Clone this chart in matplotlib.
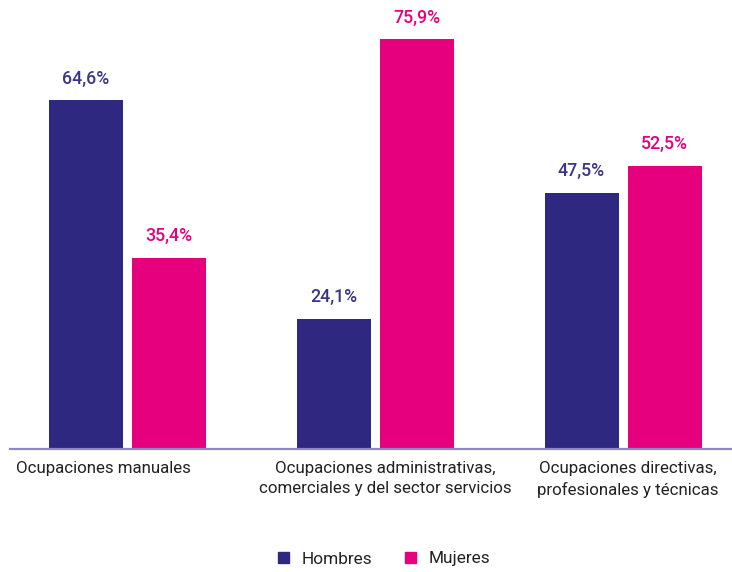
import matplotlib
matplotlib.use("Agg")
import matplotlib.pyplot as plt
from matplotlib.patches import Patch
import numpy as np

categories = [
    "Ocupaciones manuales",
    "Ocupaciones administrativas,\ncomerciales y del sector servicios",
    "Ocupaciones directivas,\nprofesionales y técnicas",
]
series_names = ["Hombres", "Mujeres"]
hombres = [64.6, 24.1, 47.5]
mujeres = [35.4, 75.9, 52.5]

C_H = "#2E2880"
C_M = "#E6007E"
C_H_TXT = "#3A3588"
C_AXIS = "#8E89C4"


def pct(v):
    return f"{v:.1f}%".replace(".", ",")


plt.rcParams["font.family"] = ["Roboto", "DejaVu Sans"]

W, H = 732, 572
fig = plt.figure(figsize=(W / 100, H / 100), dpi=100)

# axes placed in pixel terms: baseline at y=449 px from top
ax_left, ax_right = 10, 732
ax_bottom_px = 449
ax_top_px = 10
ax = fig.add_axes([ax_left / W, (H - ax_bottom_px) / H,
                   (ax_right - ax_left) / W, (ax_bottom_px - ax_top_px) / H])

spacing = 248.0
x = np.arange(len(categories))
width = 74 / spacing
off = 41.5 / spacing

ax.bar(x - off, hombres, width, color=C_H, label=series_names[0])
ax.bar(x + off, mujeres, width, color=C_M, label=series_names[1])

for xi, v in zip(x, hombres):
    ax.annotate(pct(v), (xi - off, v), xytext=(0, 9), textcoords="offset points",
                ha="center", va="bottom", color=C_H_TXT, fontsize=12.8,
                fontweight="medium")
for xi, v in zip(x, mujeres):
    ax.annotate(pct(v), (xi + off, v), xytext=(0, 9), textcoords="offset points",
                ha="center", va="bottom", color=C_M, fontsize=12.8,
                fontweight="medium")

ax.set_xlim((ax_left - 127) / spacing, (ax_right - 127) / spacing)
ax.set_ylim(0, (ax_bottom_px - ax_top_px) / 5.40)

for s in ["top", "right", "left"]:
    ax.spines[s].set_visible(False)
ax.spines["bottom"].set_color(C_AXIS)
ax.spines["bottom"].set_linewidth(1.6)
ax.set_yticks([])
ax.set_xticks([])

# category labels under each group
label_shift = [-24 / spacing, 10 / spacing, 5 / spacing]
for xi, cat, sh in zip(x, categories, label_shift):
    ax.annotate(cat, (xi + sh, 0), xytext=(0, -9), textcoords="offset points",
                ha="center", va="top", color="#222222", fontsize=12.2,
                linespacing=1.4, annotation_clip=False)

handles = [Patch(color=C_H), Patch(color=C_M)]
fig.legend(handles, series_names, loc="center", bbox_to_anchor=(384 / W, 1 - 559 / H),
           ncol=2, frameon=False, fontsize=12.4, handlelength=0.62, handleheight=0.62,
           columnspacing=1.9, handletextpad=0.75, labelcolor="#222222")

fig.savefig("out.png", dpi=100, facecolor="white")
